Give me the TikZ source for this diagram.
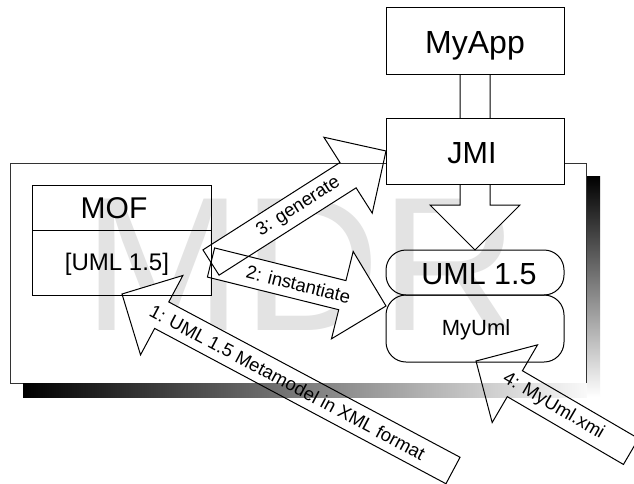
\documentclass[tikz,border=0pt]{standalone}
\usepackage{fontspec}
\setmainfont{Liberation Sans}
\usetikzlibrary{calc}
\pgfdeclarelayer{wm}
\pgfdeclarelayer{afill}
\pgfdeclarelayer{fr}
\pgfdeclarelayer{top}
\pgfsetlayers{wm,afill,fr,main,top}
% block arrow outline: #1 tail, #2 tip, #3 head base
\newcommand\blockpath[3]{($(#1)!15pt!90:(#2)$) -- ($(#3)!15pt!90:(#2)$) -- ($(#3)!45pt!90:(#2)$) -- (#2) -- ($(#3)!45pt!-90:(#2)$) -- ($(#3)!15pt!-90:(#2)$) -- ($(#1)!15pt!-90:(#2)$) -- cycle}
\tikzset{
  box/.style={draw=black, line width=1pt, inner sep=0pt, outer sep=0pt},
  fbox/.style={box, fill=white},
  arrowline/.style={draw=black, line width=1pt, line join=miter},
  lbl/.style={inner sep=0pt, font=\fontsize{18.5}{20}\selectfont},
  big/.style={anchor=base, inner sep=0pt},
}
\begin{document}
\begin{tikzpicture}[x=1pt,y=-1pt]
\useasboundingbox (0,0) rectangle (634,483);
\begin{pgfonlayer}{wm}
  \fill[white] (0,0) rectangle (634,483);
  \node[anchor=base west, inner sep=0pt, text=black!11, font=\fontsize{191}{191}\selectfont] (mdr) at (83,330) {MDR};
\end{pgfonlayer}

% boxes
\begin{pgfonlayer}{top}
  \node[fbox, minimum width=178pt, minimum height=67pt] (myapp) at (475,40.5) {};
  \node[fbox, minimum width=178pt, minimum height=66pt] (jmi) at (475,151) {};
  \node[big, font=\fontsize{32}{34}\selectfont] (tmyapp) at (475,53) {MyApp};
  \node[big, font=\fontsize{30.5}{32}\selectfont] (tjmi) at (472,163) {JMI};
\end{pgfonlayer}
\node[box, minimum width=179pt, minimum height=45pt] (mofTop) at (121.5,207.5) {};
\node[box, minimum width=179pt, minimum height=65pt] (mofBot) at (121.5,262.5) {};
\node[box, rounded corners=20pt, minimum width=178pt, minimum height=45pt] (umlTop) at (475,272.5) {};
\node[box, rounded corners=20pt, minimum width=178pt, minimum height=67pt] (umlBot) at (475,328.5) {};
\node[big, font=\fontsize{30}{32}\selectfont] (tmof) at (114,218) {MOF};
\node[big, font=\fontsize{24}{26}\selectfont] (tmofuml) at (117,270) {[UML 1.5]};
\node[big, font=\fontsize{30.5}{32}\selectfont] (tuml) at (479,284) {UML 1.5};
\node[big, font=\fontsize{22}{24}\selectfont] (tmyuml) at (476,335) {MyUml};

% frame with shadow
\begin{pgfonlayer}{fr}
  \node[box, draw=black!80, minimum width=576pt, minimum height=220pt] (frame) at (298,273) {};
  \fill[left color=black, right color=white] ($(frame.south west)+(13,0)$) rectangle ($(frame.south east)+(14,14)$);
  \fill[top color=black, bottom color=white] ($(frame.north east)+(1,13)$) rectangle ($(frame.south east)+(14,14)$);
\end{pgfonlayer}

% arrow end points
\coordinate (a1tail) at (453,470.5);
\coordinate (a1tip) at ($(mofBot.south west)+(90,-1)$);
\coordinate (a2tip) at ($(umlBot.north west)+(0,11)$);
\coordinate (a4tail) at (631,451.5);
\coordinate (a4tip) at ($(umlBot.south west)+(90,-1)$);
\coordinate (a1b) at ($(a1tip)!45pt!(a1tail)$);
\coordinate (a2b) at ($(a2tip)!45pt!(mofBot.east)$);
\coordinate (a3b) at ($(jmi.west)!45pt!(mofBot.east)$);
\coordinate (a4b) at ($(a4tip)!45pt!(a4tail)$);
\coordinate (a5b) at ($(umlTop.north)!45pt!(myapp.south)$);

\begin{pgfonlayer}{afill}
  \fill[white] \blockpath{a1tail}{a1tip}{a1b};
  \fill[white] \blockpath{mofBot.east}{a2tip}{a2b};
  \fill[white] \blockpath{mofBot.east}{jmi.west}{a3b};
  \fill[white] \blockpath{a4tail}{a4tip}{a4b};
  \fill[white] \blockpath{myapp.south}{umlTop.north}{a5b};
\end{pgfonlayer}

\draw[arrowline] \blockpath{a1tail}{a1tip}{a1b};
\draw[arrowline] \blockpath{mofBot.east}{a2tip}{a2b};
\draw[arrowline] \blockpath{mofBot.east}{jmi.west}{a3b};
\draw[arrowline] \blockpath{a4tail}{a4tip}{a4b};
\draw[arrowline] \blockpath{myapp.south}{umlTop.north}{a5b};

\path (a1tail) -- (a1tip) node[lbl, midway, sloped] (l1) {1: UML 1.5 Metamodel in XML format};
\path (mofBot.east) -- (a2tip) node[lbl, midway, sloped] (l2) {2: instantiate};
\path (mofBot.east) -- (jmi.west) node[lbl, midway, sloped] (l3) {3: generate};
\path (a4tail) -- (a4tip) node[lbl, midway, sloped] (l4) {4: MyUml.xmi};
\end{tikzpicture}
\end{document}
